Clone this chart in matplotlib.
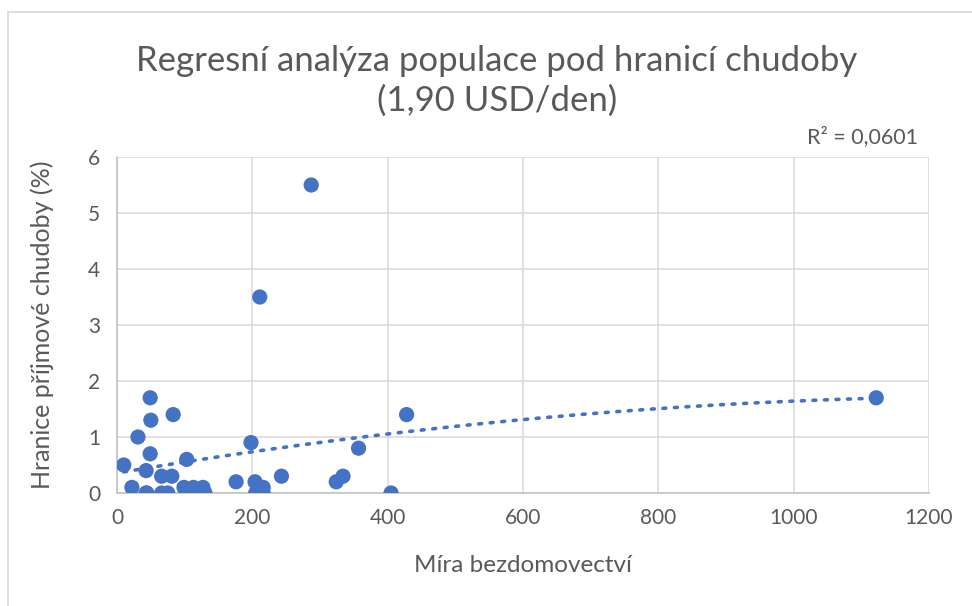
import numpy as np
import matplotlib
matplotlib.use("Agg")
import matplotlib.pyplot as plt
from matplotlib.lines import Line2D

# data
homelessness = [10, 22, 31, 43, 43, 49, 50, 49, 83, 66, 81, 103,
                44, 66, 75, 99, 113, 127, 130, 176, 198, 204, 216, 216,
                205, 211, 243, 324, 334, 357, 405, 428, 1122, 287, 211]
poverty = [0.5, 0.1, 1.0, 0.4, 0.0, 1.7, 1.3, 0.7, 1.4, 0.3, 0.3, 0.6,
           0.0, 0.0, 0.0, 0.1, 0.1, 0.1, 0.0, 0.2, 0.9, 0.2, 0.1, 0.0,
           0.0, 0.0, 0.3, 0.2, 0.3, 0.8, 0.0, 1.4, 1.7, 5.5, 3.5]
x_ticks = [0, 200, 400, 600, 800, 1000, 1200]
y_ticks = [0, 1, 2, 3, 4, 5, 6]
title = "Regresní analýza populace pod hranicí chudoby\n(1,90 USD/den)"
x_label = "Míra bezdomovectví"
y_label = "Hranice příjmové chudoby (%)"
r2_label = "R² = 0,0601"

plt.rcParams['font.family'] = ['Lato', 'DejaVu Sans']
TXT = '#595959'
BLUE = '#4472C4'

fig = plt.figure(figsize=(9.72, 6.06), dpi=100)
ax = fig.add_axes([117/972, 1-493/606, (929-117)/972, (493-157)/606])

x = np.array(homelessness, dtype=float)
y = np.array(poverty, dtype=float)

coef = np.polyfit(x, y, 2)
xs = np.linspace(x.min(), x.max(), 300)
ax.plot(xs, np.polyval(coef, xs), linestyle=(0, (0.8, 2.4)), color=BLUE,
        linewidth=2.6, dash_capstyle='round', zorder=2)

ax.scatter(x, y, s=120, color=BLUE, edgecolors='none', zorder=3)

ax.set_xlim(0, 1200)
ax.set_ylim(0, 6)
ax.set_xticks(x_ticks)
ax.set_yticks(y_ticks)
ax.set_xticklabels([str(v) for v in x_ticks])
ax.set_yticklabels([str(v) for v in y_ticks])
ax.tick_params(axis='both', length=0, labelsize=15, colors=TXT)
ax.tick_params(axis='x', pad=11)
ax.tick_params(axis='y', pad=12)
ax.grid(True, color='#D9D9D9', linewidth=1.1)
ax.set_axisbelow(True)
for s in ['top', 'right']:
    ax.spines[s].set_visible(False)
ax.spines['left'].set_color('#BFBFBF')
ax.spines['bottom'].set_color('#BFBFBF')
ax.spines['left'].set_linewidth(1.1)
ax.spines['bottom'].set_linewidth(1.1)

fig.text(497/972, 1-81/606, title, ha='center', va='center', fontsize=25,
         color=TXT, linespacing=1.32)
fig.text(523/972, 1-565/606, x_label, ha='center', va='center', fontsize=17.5, color=TXT)
fig.text(42/972, 1-325/606, y_label, ha='center', va='center', fontsize=18,
         color=TXT, rotation=90)
fig.text(918/972, 1-137/606, r2_label, ha='right', va='center', fontsize=15.5, color=TXT)

# outer chart frame
fig.add_artist(Line2D([8/972, 1], [1-12/606, 1-12/606], color='#D9D9D9', linewidth=1.2,
                      transform=fig.transFigure))
fig.add_artist(Line2D([8/972, 8/972], [0, 1-12/606], color='#D9D9D9', linewidth=1.2,
                      transform=fig.transFigure))

fig.savefig('out.png', dpi=100, facecolor='white')
